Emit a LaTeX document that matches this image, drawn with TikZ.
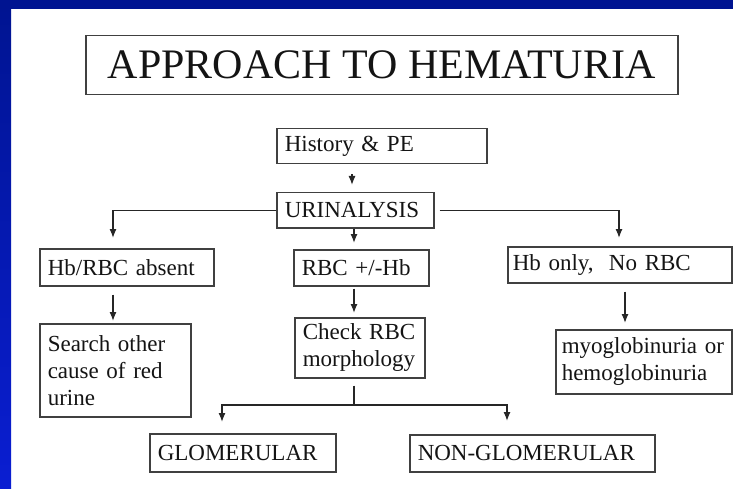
\documentclass[tikz,border=0pt]{standalone}
\usepackage{fontspec}
\setmainfont{Liberation Serif}
\usetikzlibrary{arrows.meta}

\definecolor{bandtop}{RGB}{0,20,145}
\definecolor{bandlow}{RGB}{10,30,210}

\tikzset{every picture/.style={line width=1.3pt}}
\tikzset{
  box/.style={draw=black!75, line width=1.5pt, anchor=north west, inner xsep=8pt, inner ysep=0pt,
    align=left, text=black!92, font=\fontsize{23}{27}\selectfont},
  arr/.style={draw=black!85, -{Latex[length=9pt,width=7pt]}},
  wire/.style={draw=black!85}
}

\begin{document}
\begin{tikzpicture}[x=1pt,y=1pt,yscale=-1]
\useasboundingbox (0,0) rectangle (733,489);

%Frame
\fill[white] (0,0) rectangle (733,489);
\shade[top color=bandtop, bottom color=bandlow] (0,0) rectangle (11,489);
\fill[bandtop] (0,0) rectangle (733,9);

% Title
\node[box, align=center, inner sep=0pt, minimum width=592pt, minimum height=59pt,
  font=\fontsize{42}{48}\selectfont] (title) at (85,35) {APPROACH TO HEMATURIA};

% Boxes
\node[box, text width=194pt, minimum height=35pt] (hist) at (276,128) {History \& PE};
\node[box, text width=141pt, minimum height=35pt] (uri) at (276,192) {URINALYSIS};
\node[box, text width=158pt, minimum height=37pt] (hbabs) at (39,248) {Hb/RBC absent};
\node[box, text width=119pt, minimum height=36pt] (rbc) at (293,249) {RBC +/-Hb};
\node[box, inner xsep=5pt, text width=214pt, minimum height=36pt] (hbonly) at (507,246) {Hb only,\ \ No RBC};
\node[box, text width=135pt, minimum height=93pt] (search) at (39,323) {Search other\\cause of red\\urine};
\node[box, text width=114pt, minimum height=60pt] (check) at (294,317) {Check RBC\\morphology};
\node[box, inner xsep=6pt, text width=164pt, minimum height=64pt] (myo) at (555,329) {myoglobinuria or\\hemoglobinuria};
\node[box, text width=170pt, minimum height=38pt] (glom) at (149,433) {GLOMERULAR};
\node[box, text width=229pt, minimum height=37pt] (nong) at (409,434) {NON-GLOMERULAR};

% Connector columns
\coordinate (c1) at (352,0);
\coordinate (c2) at (354,0);
\coordinate (bl) at (113,0);
\coordinate (br) at (619,0);
\coordinate (c3) at (625,0);
\coordinate (split) at (354,405);
\coordinate (gl) at (222,0);
\coordinate (gr) at (507,0);

% Arrows
\draw[arr, shorten <=10pt, shorten >=7pt] (hist.south -| c1) -- (uri.north -| c1);
\draw[arr, shorten >=6pt] (uri.south -| c2) -- (rbc.north -| c2);
\draw[arr, shorten >=10pt] (uri.west) -| (hbabs.north -| bl);
\draw[arr, shorten <=5pt, shorten >=8pt] (uri.east) -| (hbonly.north -| br);
\draw[arr, shorten <=8pt, shorten >=2pt] (hbabs.south -| bl) -- (search.north -| bl);
\draw[arr, shorten <=2pt, shorten >=4pt] (rbc.south -| c2) -- (check.north -| c2);
\draw[arr, shorten <=8pt, shorten >=6pt] (hbonly.south -| c3) -- (myo.north -| c3);
\draw[wire, shorten <=7pt] (check.south -| split) -- (split);
\draw[arr, shorten >=11pt] (split) -| (glom.north -| gl);
\draw[arr, shorten >=13pt] (split) -| (nong.north -| gr);

\end{tikzpicture}
\end{document}
